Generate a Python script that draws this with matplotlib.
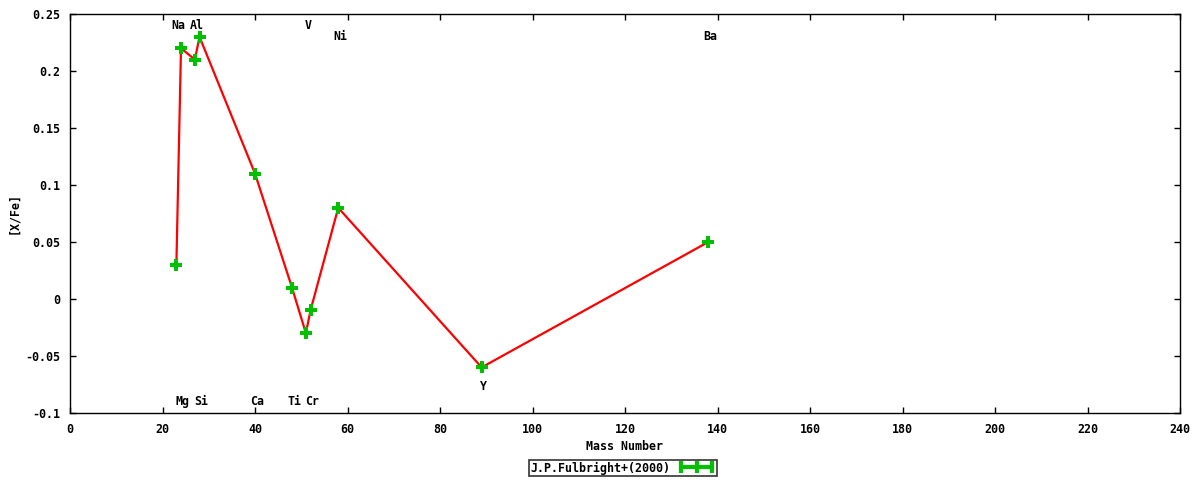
import matplotlib
matplotlib.use("Agg")
import matplotlib.pyplot as plt
from matplotlib.lines import Line2D
from matplotlib.transforms import offset_copy

elements = ["Na", "Mg", "Al", "Si", "Ca", "Ti", "V", "Cr", "Ni", "Y", "Ba"]
mass_numbers = [23, 24, 27, 28, 40, 48, 51, 52, 58, 89, 138]
x_fe = [0.03, 0.22, 0.21, 0.23, 0.11, 0.01, -0.03, -0.01, 0.08, -0.06, 0.05]
label_y = [0.24, -0.09, 0.24, -0.09, -0.09, -0.09, 0.24, -0.09, 0.23, -0.077, 0.23]
x_ticks = list(range(0, 241, 20))
y_ticks = [-0.1, -0.05, 0, 0.05, 0.1, 0.15, 0.2, 0.25]
y_tick_labels = ["-0.1", "-0.05", "0", "0.05", "0.1", "0.15", "0.2", "0.25"]
series_name = "J.P.Fulbright+(2000)"

FONT = dict(family="DejaVu Sans Mono", weight="bold", size=8.4)
GREEN = "#00c000"
RED = "#ff0000"

fig = plt.figure(figsize=(12, 4.8), dpi=100)
ax = fig.add_axes([70 / 1200, 67 / 480, 1110 / 1200, 399 / 480])

ax.plot(mass_numbers, x_fe, color=RED, lw=1.6, zorder=2)
ax.plot(mass_numbers, x_fe, linestyle="none", marker="P", markersize=8.5,
        color=GREEN, markeredgewidth=0, zorder=3)

tr = offset_copy(ax.transData, fig=fig, x=2, y=0, units="dots")
for el, m, ly in zip(elements, mass_numbers, label_y):
    ax.text(m, ly, el, transform=tr, ha="center", va="center", **FONT)

ax.set_xlim(0, 240)
ax.set_ylim(-0.1, 0.25)
ax.set_xticks(x_ticks)
ax.set_xticklabels([str(t) for t in x_ticks])
ax.set_yticks(y_ticks)
ax.set_yticklabels(y_tick_labels)
ax.tick_params(direction="in", length=4, width=1, top=True, right=True,
               pad=7, colors="black")
for lab in ax.get_xticklabels() + ax.get_yticklabels():
    lab.set_fontfamily(FONT["family"])
    lab.set_fontweight(FONT["weight"])
    lab.set_fontsize(FONT["size"])
for sp in ax.spines.values():
    sp.set_linewidth(1.0)
    sp.set_color("black")

ax.set_xlabel("Mass Number", **FONT)
ax.set_ylabel("[X/Fe]", **FONT)
ax.xaxis.set_label_coords(0.5, (413 - 447) / 399, transform=ax.transAxes)
ax.xaxis.label.set_va("center")
ax.yaxis.set_label_coords((14 - 70) / 1110, 0.5, transform=ax.transAxes)
ax.yaxis.label.set_va("center")

handle = Line2D([], [], color=GREEN, lw=3, marker="|", markersize=9,
                markeredgewidth=3)
leg = fig.legend([handle], [series_name], loc="center",
                 bbox_to_anchor=(623 / 1200, 1 - 468 / 480),
                 numpoints=3, markerfirst=False, handlelength=3.2,
                 handletextpad=0.6, borderpad=0.15, fancybox=False,
                 prop=dict(family=FONT["family"], weight="bold", size=FONT["size"]))
leg.get_frame().set_edgecolor("black")
leg.get_frame().set_linewidth(1.2)

fig.savefig("out.png", dpi=100)
